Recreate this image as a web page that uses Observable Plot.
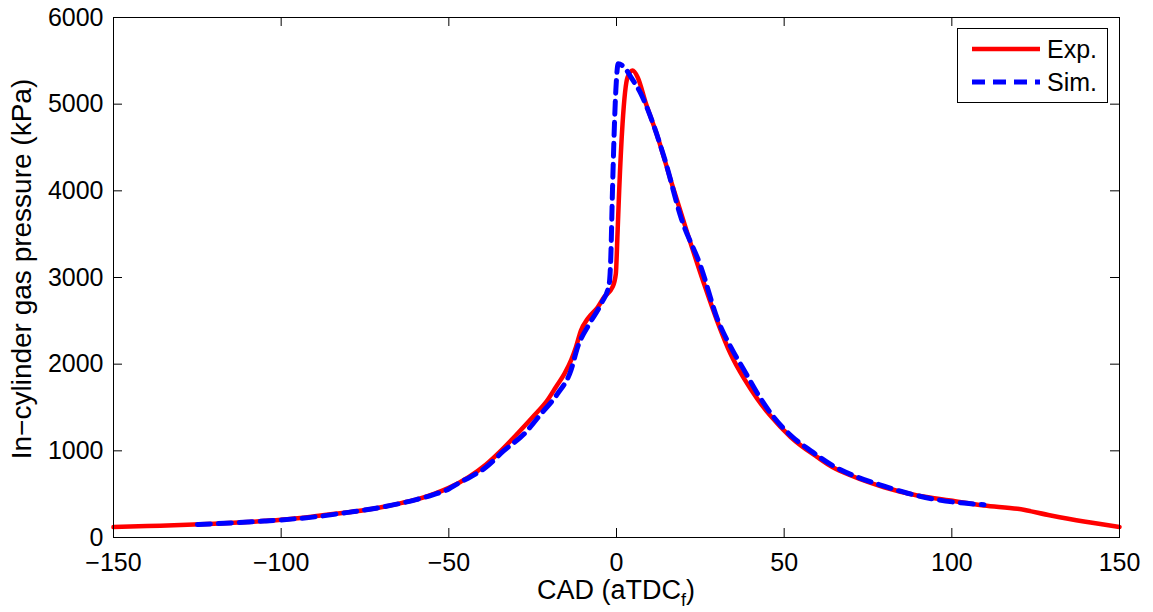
<!DOCTYPE html>
<html>
<head>
<meta charset="utf-8">
<script src="https://cdn.jsdelivr.net/npm/d3@7"></script>
<script src="https://cdn.jsdelivr.net/npm/@observablehq/plot@0.6"></script>
<style>
  html, body { margin: 0; padding: 0; background: #fff; }
  #wrap { position: relative; width: 1153px; height: 612px; font-family: "Liberation Sans", Arial, Helvetica, sans-serif; }
  #legend { position: absolute; left: 957px; top: 28px; width: 151px; height: 75px; box-sizing: border-box; border: 1px solid #000; background: #fff; }
</style>
</head>
<body>
<div id="wrap"></div>
<script>
// Crank angle (deg aTDC_f) and in-cylinder pressure (kPa)
const expX = [-150,-140,-130,-120,-110,-100,-90,-84,-75,-69,-64,-59,-54,-50,-44,-39,-34.5,-29.5,-24.5,-20.5,-18,-15.5,-13.5,-12.1,-10.6,-8.6,-5.6,-3.7,-1.2,-0.2,0.3,0.8,1.8,3.3,4.8,6.3,8.8,12.3,16.2,21.2,26.1,30,34,38.1,42,46,52,59.9,64.5,69.9,79.8,89.7,99.6,109.6,119.6,129.5,139.4,150];
const expY = [120,132,143,158,178,204,245,273,318,358,400,446,510,573,700,840,1000,1200,1410,1590,1740,1890,2050,2196,2388,2523,2657,2773,2888,3042,3500,4004,4773,5311,5388,5311,5004,4619,4119,3504,2927,2500,2120,1830,1600,1400,1157,927,810,715,580,485,427,369,331,254,185,122];
const simX = [-125,-115,-105,-100,-90,-80,-70,-60,-55,-50,-47.4,-43.5,-39.4,-33.5,-27.5,-22.5,-17.6,-13.6,-11.6,-8.1,-4.6,-2.2,-1.7,-1.2,-0.2,0.5,2.3,4.3,7.3,10,14.5,19.2,25.2,30.1,34.1,38.1,42.1,46.5,52,58.5,64.4,71.9,79.8,86.8,94.7,102.7,109.6];
const simY = [150,168,190,203,238,290,350,435,490,560,620,700,796,1004,1196,1427,1657,1927,2196,2465,2696,2920,3234,4004,5158,5465,5427,5311,5119,4870,4350,3696,3119,2520,2196,1927,1658,1408,1177,985,831,696,592,511,442,400,377];
const xTicks = [-150,-100,-50,0,50,100,150];
const yTicks = [0,1000,2000,3000,4000,5000,6000];
const seriesNames = ["Exp.", "Sim."];
const seriesColors = ["#ff0000", "#0000ff"];

const expData = expX.map((x, i) => ({x, y: expY[i]}));
const simData = simX.map((x, i) => ({x, y: simY[i]}));

const W = 1153, H = 612, mL = 113, mR = 34, mT = 17, mB = 75;
const innerW = W - mL - mR, innerH = H - mT - mB, tick = 9;

const chart = Plot.plot({
  width: W, height: H,
  marginLeft: mL, marginRight: mR, marginTop: mT, marginBottom: mB,
  x: {domain: [-150, 150]},
  y: {domain: [0, 6000]},
  style: {fontFamily: "'Liberation Sans', Arial, Helvetica, sans-serif", fontSize: "25px", background: "#fff", color: "#000"},
  marks: [
    Plot.line(expData, {x: "x", y: "y", stroke: seriesColors[0], strokeWidth: 4.5, curve: "monotone-x"}),
    Plot.line(simData, {x: "x", y: "y", stroke: seriesColors[1], strokeWidth: 5, strokeDasharray: "13,8", curve: "monotone-x"}),
    Plot.frame({stroke: "#000", strokeWidth: 1}),
    Plot.tickX(xTicks, {x: d => d, stroke: "#000", insetTop: innerH - tick}),
    Plot.tickX(xTicks, {x: d => d, stroke: "#000", insetBottom: innerH - tick}),
    Plot.tickY(yTicks, {y: d => d, stroke: "#000", insetRight: innerW - tick}),
    Plot.tickY(yTicks, {y: d => d, stroke: "#000", insetLeft: innerW - tick}),
    Plot.axisX({ticks: xTicks, tickSize: 0, tickPadding: 16, label: null, fontSize: 25}),
    Plot.axisY({ticks: yTicks, tickSize: 0, tickPadding: 10, label: null, fontSize: 25, tickFormat: d3.format("d")})
  ]
});

const svg = d3.select(chart);
const xt = svg.append("text")
  .attr("x", mL + innerW / 2).attr("y", 599)
  .attr("text-anchor", "middle")
  .style("font-size", "27px").style("fill", "#000");
xt.append("tspan").text("CAD (aTDC");
xt.append("tspan").attr("dy", 7).style("font-size", "18px").text("f");
xt.append("tspan").attr("dy", -7).text(")");

svg.append("text")
  .attr("transform", `translate(31,${mT + innerH / 2 - 8}) rotate(-90)`)
  .attr("text-anchor", "middle")
  .style("font-size", "28px").style("fill", "#000")
  .text("In\u2212cylinder gas pressure (kPa)");

const wrap = document.getElementById("wrap");
wrap.appendChild(chart);

// Legend
const leg = document.createElement("div");
leg.id = "legend";
wrap.appendChild(leg);
const ls = d3.select(leg).append("svg").attr("width", 149).attr("height", 73);
const styles = [{dash: null, w: 4.5}, {dash: "13,8", w: 5}];
seriesNames.forEach((name, i) => {
  const cy = 20 + i * 33;
  ls.append("line").attr("x1", 14).attr("x2", 82).attr("y1", cy).attr("y2", cy)
    .attr("stroke", seriesColors[i]).attr("stroke-width", styles[i].w)
    .attr("stroke-dasharray", styles[i].dash);
  ls.append("text").attr("x", 89).attr("y", cy + 9)
    .style("font-family", "'Liberation Sans', Arial, sans-serif").style("font-size", "25px")
    .text(name);
});
</script>
</body>
</html>
